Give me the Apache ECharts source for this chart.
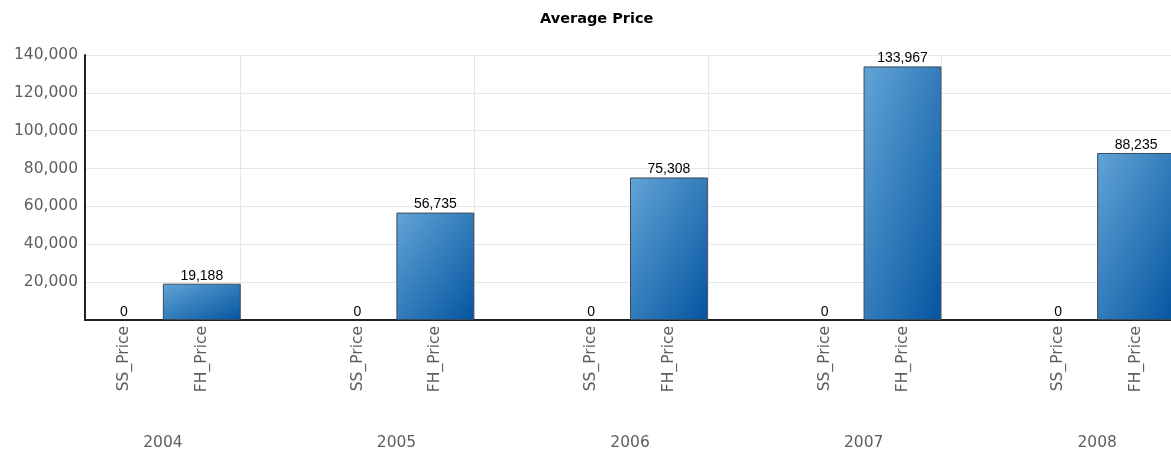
<!DOCTYPE html>
<html><head><meta charset="utf-8">
<script src="https://cdn.jsdelivr.net/npm/echarts@6/dist/echarts.min.js"></script>
<style>html,body{margin:0;padding:0;background:#fff}#c{width:1171px;height:456px}</style>
</head><body><div id="c"></div>
<script>
const years = ['2004', '2005', '2006', '2007', '2008'];
const subCategories = ['SS_Price', 'FH_Price'];
const ssPrice = [0, 0, 0, 0, 0];
const fhPrice = [19188, 56735, 75308, 133967, 88235];
const yTicks = [0, 20000, 40000, 60000, 80000, 100000, 120000, 140000];

// build slot list: SS, FH, gap per year (no trailing gap)
const slots = [], slotYear = [], values = [];
years.forEach((y, i) => {
  slots.push(subCategories[0]); slotYear.push(y); values.push(ssPrice[i]);
  slots.push(subCategories[1]); slotYear.push(y); values.push(fhPrice[i]);
  if (i < years.length - 1) { slots.push(''); slotYear.push(''); values.push('-'); }
});
const barData = values.map(v => v === 0 ? { value: v, itemStyle: { borderWidth: 0 } } : v);

const fmt = v => v.toLocaleString('en-US');
const axisFont = { color: '#5e5e5e', fontFamily: 'DejaVu Sans', fontSize: 15.5 };
const chart = echarts.init(document.getElementById('c'));

// bounding-box style diagonal gradient (isolines run corner to corner)
function barColor(p) {
  const v = typeof p.value === 'number' ? p.value : 0;
  const yMax = yTicks[yTicks.length - 1];
  const h = Math.max(1, v / yMax * 265), w = 78;
  const s = h * h + w * w;
  return new echarts.graphic.LinearGradient(0, 0, 2 * h * h / s, 2 * w * w / s, [
    { offset: 0, color: '#62a4d6' }, { offset: 1, color: '#0455a0' }
  ]);
}

chart.setOption({
  animation: false,
  title: {
    text: 'Average Price', left: 535, top: 7,
    textStyle: { fontFamily: 'DejaVu Sans', fontSize: 14.5, fontWeight: 'bold', color: '#000' }
  },
  grid: { left: 85, width: 1090, top: 55, bottom: 136, containLabel: false, outerBoundsMode: 'none' },
  xAxis: [{
    type: 'category', data: slots, boundaryGap: true,
    axisLine: { lineStyle: { color: '#222', width: 2 } },
    axisTick: { show: false },
    axisLabel: Object.assign({ rotate: 90, margin: 6, interval: 0 }, axisFont),
    splitLine: {
      show: true, lineStyle: { color: '#e6e6e6', width: 1 },
      interval: (idx, val) => val === ''
    }
  }, {
    type: 'category', data: slotYear, position: 'bottom', boundaryGap: true,
    axisLine: { show: false }, axisTick: { show: false }, splitLine: { show: false },
    axisLabel: Object.assign({
      interval: (idx) => slots[idx] === subCategories[0],
      margin: 115, padding: [0, 0, 0, 78]
    }, axisFont)
  }],
  yAxis: {
    type: 'value', min: yTicks[0], max: yTicks[yTicks.length - 1],
    interval: yTicks[1] - yTicks[0],
    axisLine: { show: true, lineStyle: { color: '#222', width: 2 } },
    axisTick: { show: false },
    axisLabel: Object.assign({
      margin: 7, formatter: v => v === 0 ? '' : fmt(v)
    }, axisFont),
    splitLine: { show: true, lineStyle: { color: '#e6e6e6', width: 1 } }
  },
  series: [{
    type: 'bar', xAxisIndex: 0, data: barData, barCategoryGap: '0%',
    itemStyle: { color: barColor, borderColor: '#3a4a5a', borderWidth: 1 },
    label: {
      show: true, position: 'top', distance: 1, color: '#000',
      fontFamily: 'Liberation Sans', fontSize: 14,
      formatter: p => fmt(p.value)
    }
  }]
});
</script></body></html>
